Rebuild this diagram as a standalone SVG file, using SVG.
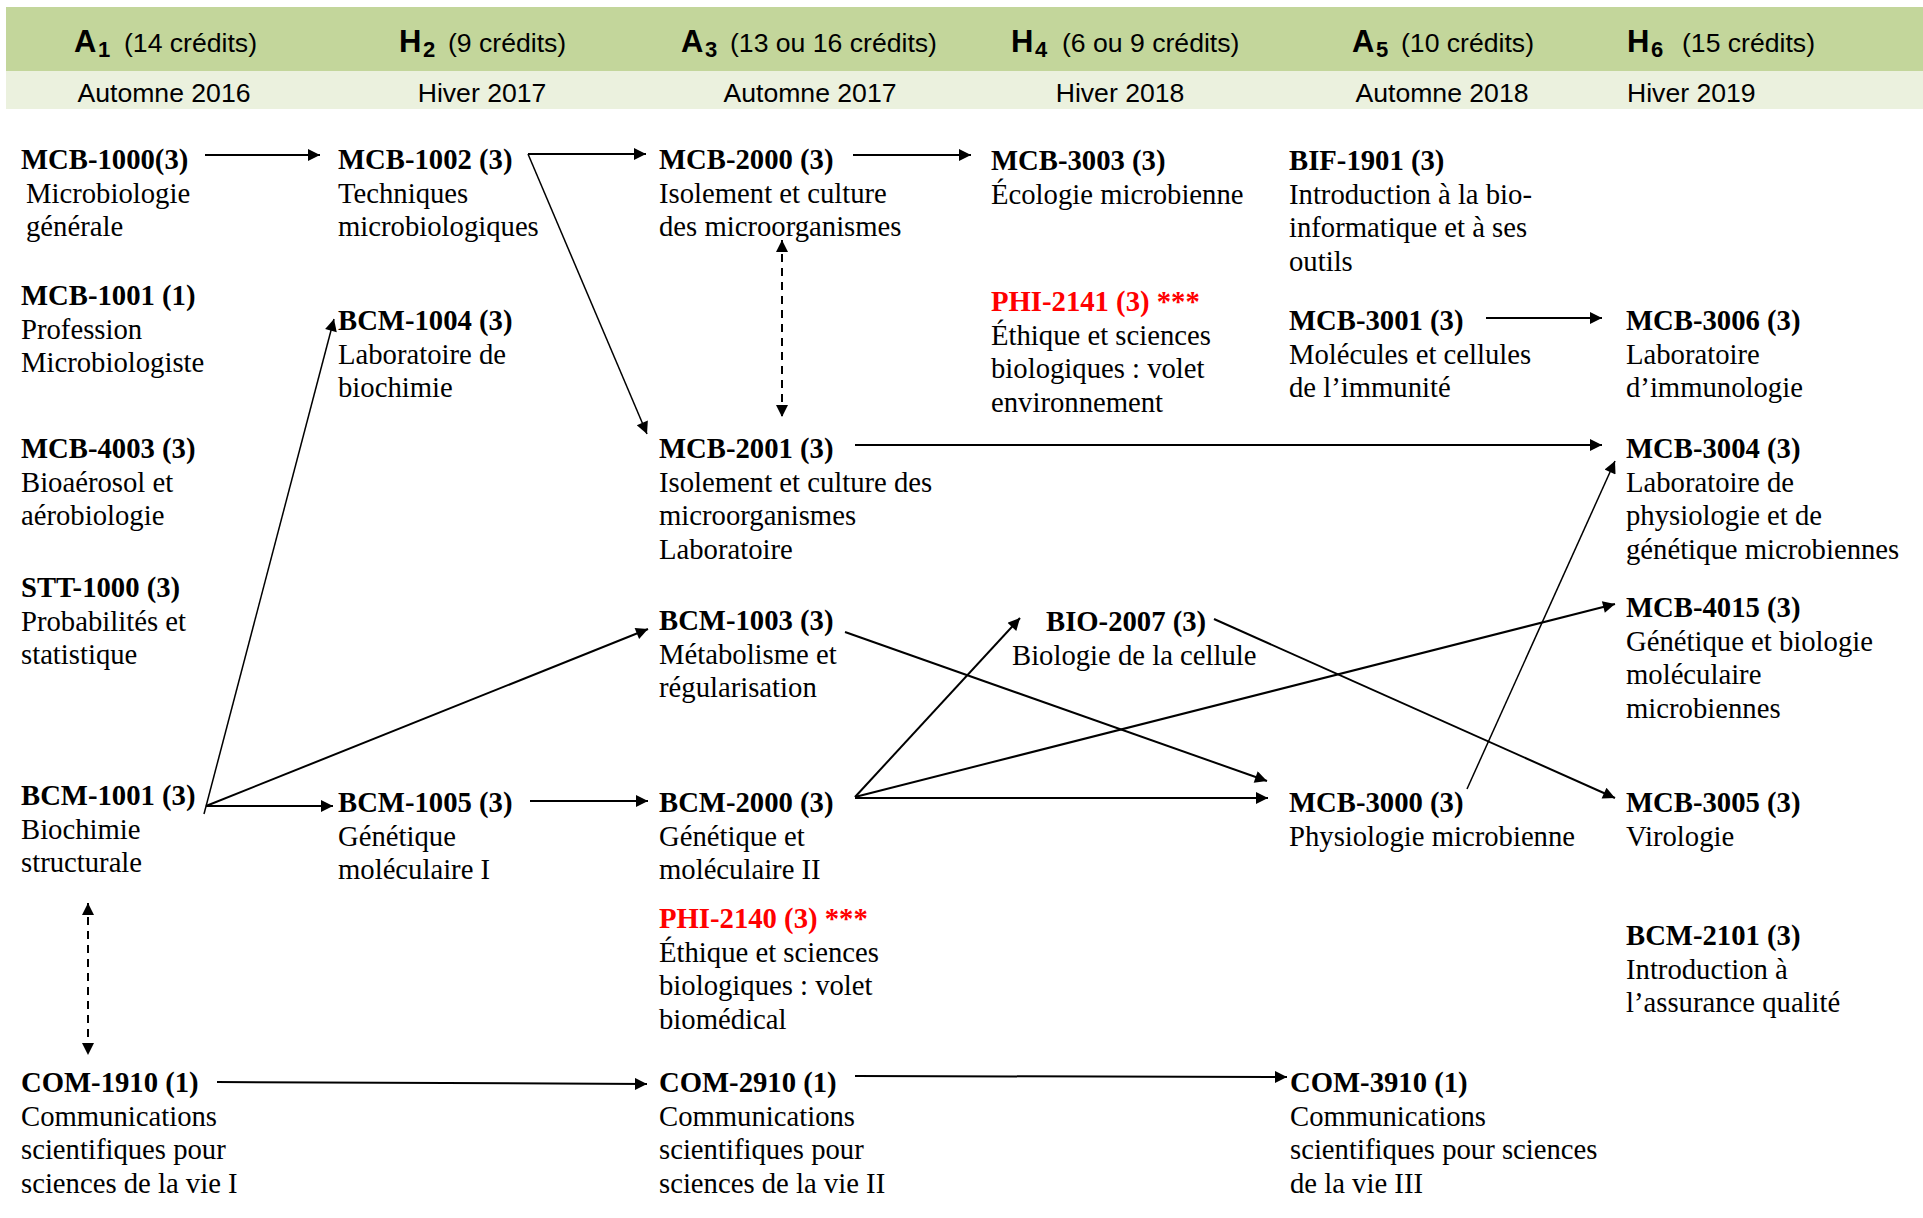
<svg xmlns="http://www.w3.org/2000/svg" width="1923" height="1218" viewBox="0 0 1923 1218">
<style>
.h{font-family:"Liberation Sans",Arial,sans-serif;font-size:26.6px;fill:#000}
.hb{font-family:"Liberation Sans",Arial,sans-serif;font-size:31px;font-weight:bold;fill:#000}
.hs{font-family:"Liberation Sans",Arial,sans-serif;font-size:22px;font-weight:bold;fill:#000}
.c{font-family:"Liberation Serif","Times New Roman",serif;font-size:28.7px;fill:#000}
.b{font-weight:bold}
.red{fill:#FF0000;font-weight:bold}
.ln{fill:none;stroke:#000;stroke-width:2}
.thin{stroke-width:1.5}
.dash{stroke-dasharray:8 6}
</style>
<defs>
<marker id="ah" viewBox="0 0 10 10" refX="10" refY="5" markerWidth="14" markerHeight="12" markerUnits="userSpaceOnUse" orient="auto-start-reverse">
<path d="M0,0 L10,5 L0,10 Z" fill="#000"/>
</marker>
</defs>
<rect width="1923" height="1218" fill="#fff"/>
<g id="header">
<rect x="6" y="7" width="1917" height="64" fill="#C3D69B"/>
<rect x="6" y="71" width="1917" height="38" fill="#EBF1DE"/>
<text class="hb" x="74" y="52">A</text><text class="hs" x="98" y="57">1</text><text class="h" x="124" y="52">(14 crédits)</text>
<text class="hb" x="399" y="52">H</text><text class="hs" x="423" y="57">2</text><text class="h" x="448" y="52">(9 crédits)</text>
<text class="hb" x="681" y="52">A</text><text class="hs" x="705" y="57">3</text><text class="h" x="730" y="52">(13 ou 16 crédits)</text>
<text class="hb" x="1011" y="52">H</text><text class="hs" x="1035" y="57">4</text><text class="h" x="1062" y="52">(6 ou 9 crédits)</text>
<text class="hb" x="1352" y="52">A</text><text class="hs" x="1376" y="57">5</text><text class="h" x="1401" y="52">(10 crédits)</text>
<text class="hb" x="1627" y="52">H</text><text class="hs" x="1651" y="57">6</text><text class="h" x="1682" y="52">(15 crédits)</text>
<text class="h" x="164" y="102" text-anchor="middle">Automne 2016</text>
<text class="h" x="482" y="102" text-anchor="middle">Hiver 2017</text>
<text class="h" x="810" y="102" text-anchor="middle">Automne 2017</text>
<text class="h" x="1120" y="102" text-anchor="middle">Hiver 2018</text>
<text class="h" x="1442" y="102" text-anchor="middle">Automne 2018</text>
<text class="h" x="1627" y="102">Hiver 2019</text>
</g>

<g id="n-MCB-1000"><text class="c"><tspan class="b" x="21" y="169">MCB-1000(3)</tspan><tspan x="26" y="202.5">Microbiologie</tspan><tspan x="26" y="236">générale</tspan></text></g>
<g id="n-MCB-1001"><text class="c"><tspan class="b" x="21" y="305">MCB-1001 (1)</tspan><tspan x="21" y="338.5">Profession</tspan><tspan x="21" y="372">Microbiologiste</tspan></text></g>
<g id="n-MCB-4003"><text class="c"><tspan class="b" x="21" y="458">MCB-4003 (3)</tspan><tspan x="21" y="491.5">Bioaérosol et</tspan><tspan x="21" y="525">aérobiologie</tspan></text></g>
<g id="n-STT-1000"><text class="c"><tspan class="b" x="21" y="597">STT-1000 (3)</tspan><tspan x="21" y="630.5">Probabilités et</tspan><tspan x="21" y="664">statistique</tspan></text></g>
<g id="n-BCM-1001"><text class="c"><tspan class="b" x="21" y="805">BCM-1001 (3)</tspan><tspan x="21" y="838.5">Biochimie</tspan><tspan x="21" y="872">structurale</tspan></text></g>
<g id="n-COM-1910"><text class="c"><tspan class="b" x="21" y="1092">COM-1910 (1)</tspan><tspan x="21" y="1125.5">Communications</tspan><tspan x="21" y="1159">scientifiques pour</tspan><tspan x="21" y="1192.5">sciences de la vie I</tspan></text></g>

<g id="n-MCB-1002"><text class="c"><tspan class="b" x="338" y="169">MCB-1002 (3)</tspan><tspan x="338" y="202.5">Techniques</tspan><tspan x="338" y="236">microbiologiques</tspan></text></g>
<g id="n-BCM-1004"><text class="c"><tspan class="b" x="338" y="330">BCM-1004 (3)</tspan><tspan x="338" y="363.5">Laboratoire de</tspan><tspan x="338" y="397">biochimie</tspan></text></g>
<g id="n-BCM-1005"><text class="c"><tspan class="b" x="338" y="812">BCM-1005 (3)</tspan><tspan x="338" y="845.5">Génétique</tspan><tspan x="338" y="879">moléculaire I</tspan></text></g>

<g id="n-MCB-2000"><text class="c"><tspan class="b" x="659" y="169">MCB-2000 (3)</tspan><tspan x="659" y="202.5">Isolement et culture</tspan><tspan x="659" y="236">des microorganismes</tspan></text></g>
<g id="n-MCB-2001"><text class="c"><tspan class="b" x="659" y="458">MCB-2001 (3)</tspan><tspan x="659" y="491.5">Isolement et culture des</tspan><tspan x="659" y="525">microorganismes</tspan><tspan x="659" y="558.5">Laboratoire</tspan></text></g>
<g id="n-BCM-1003"><text class="c"><tspan class="b" x="659" y="630">BCM-1003 (3)</tspan><tspan x="659" y="663.5">Métabolisme et</tspan><tspan x="659" y="697">régularisation</tspan></text></g>
<g id="n-BCM-2000"><text class="c"><tspan class="b" x="659" y="812">BCM-2000 (3)</tspan><tspan x="659" y="845.5">Génétique et</tspan><tspan x="659" y="879">moléculaire II</tspan></text></g>
<g id="n-PHI-2140"><text class="c"><tspan class="red" x="659" y="928">PHI-2140 (3) ***</tspan><tspan x="659" y="961.5">Éthique et sciences</tspan><tspan x="659" y="995">biologiques : volet</tspan><tspan x="659" y="1028.5">biomédical</tspan></text></g>
<g id="n-COM-2910"><text class="c"><tspan class="b" x="659" y="1092">COM-2910 (1)</tspan><tspan x="659" y="1125.5">Communications</tspan><tspan x="659" y="1159">scientifiques pour</tspan><tspan x="659" y="1192.5">sciences de la vie II</tspan></text></g>

<g id="n-MCB-3003"><text class="c"><tspan class="b" x="991" y="170">MCB-3003 (3)</tspan><tspan x="991" y="203.5">Écologie microbienne</tspan></text></g>
<g id="n-PHI-2141"><text class="c"><tspan class="red" x="991" y="311">PHI-2141 (3) ***</tspan><tspan x="991" y="344.5">Éthique et sciences</tspan><tspan x="991" y="378">biologiques : volet</tspan><tspan x="991" y="411.5">environnement</tspan></text></g>
<g id="n-BIO-2007"><text class="c"><tspan class="b" x="1046" y="631">BIO-2007 (3)</tspan><tspan x="1012" y="664.5">Biologie de la cellule</tspan></text></g>

<g id="n-BIF-1901"><text class="c"><tspan class="b" x="1289" y="170">BIF-1901 (3)</tspan><tspan x="1289" y="203.5">Introduction à la bio-</tspan><tspan x="1289" y="237">informatique et à ses</tspan><tspan x="1289" y="270.5">outils</tspan></text></g>
<g id="n-MCB-3001"><text class="c"><tspan class="b" x="1289" y="330">MCB-3001 (3)</tspan><tspan x="1289" y="363.5">Molécules et cellules</tspan><tspan x="1289" y="397">de l’immunité</tspan></text></g>
<g id="n-MCB-3000"><text class="c"><tspan class="b" x="1289" y="812">MCB-3000 (3)</tspan><tspan x="1289" y="845.5">Physiologie microbienne</tspan></text></g>
<g id="n-COM-3910"><text class="c"><tspan class="b" x="1290" y="1092">COM-3910 (1)</tspan><tspan x="1290" y="1125.5">Communications</tspan><tspan x="1290" y="1159">scientifiques pour sciences</tspan><tspan x="1290" y="1192.5">de la vie III</tspan></text></g>

<g id="n-MCB-3006"><text class="c"><tspan class="b" x="1626" y="330">MCB-3006 (3)</tspan><tspan x="1626" y="363.5">Laboratoire</tspan><tspan x="1626" y="397">d’immunologie</tspan></text></g>
<g id="n-MCB-3004"><text class="c"><tspan class="b" x="1626" y="458">MCB-3004 (3)</tspan><tspan x="1626" y="491.5">Laboratoire de</tspan><tspan x="1626" y="525">physiologie et de</tspan><tspan x="1626" y="558.5">génétique microbiennes</tspan></text></g>
<g id="n-MCB-4015"><text class="c"><tspan class="b" x="1626" y="617">MCB-4015 (3)</tspan><tspan x="1626" y="650.5">Génétique et biologie</tspan><tspan x="1626" y="684">moléculaire</tspan><tspan x="1626" y="717.5">microbiennes</tspan></text></g>
<g id="n-MCB-3005"><text class="c"><tspan class="b" x="1626" y="812">MCB-3005 (3)</tspan><tspan x="1626" y="845.5">Virologie</tspan></text></g>
<g id="n-BCM-2101"><text class="c"><tspan class="b" x="1626" y="945">BCM-2101 (3)</tspan><tspan x="1626" y="978.5">Introduction à</tspan><tspan x="1626" y="1012">l’assurance qualité</tspan></text></g>

<g id="connectors">
<line class="ln" x1="205" y1="155" x2="320" y2="155" marker-end="url(#ah)"/>
<line class="ln" x1="528" y1="154" x2="646" y2="154" marker-end="url(#ah)"/>
<line class="ln thin" x1="528" y1="154" x2="647" y2="434" marker-end="url(#ah)"/>
<line class="ln" x1="853" y1="155" x2="971" y2="155" marker-end="url(#ah)"/>
<line class="ln dash" x1="782" y1="240" x2="782" y2="417" marker-start="url(#ah)" marker-end="url(#ah)"/>
<line class="ln" x1="855" y1="445" x2="1602" y2="445" marker-end="url(#ah)"/>
<line class="ln" x1="1486" y1="318" x2="1602" y2="318" marker-end="url(#ah)"/>
<line class="ln thin" x1="204" y1="814" x2="334" y2="319" marker-end="url(#ah)"/>
<line class="ln" x1="206" y1="806" x2="648" y2="629" marker-end="url(#ah)"/>
<line class="ln" x1="206" y1="806" x2="333" y2="806" marker-end="url(#ah)"/>
<line class="ln" x1="530" y1="801" x2="648" y2="801" marker-end="url(#ah)"/>
<line class="ln" x1="855" y1="797" x2="1020" y2="618" marker-end="url(#ah)"/>
<line class="ln" x1="855" y1="797" x2="1615" y2="604" marker-end="url(#ah)"/>
<line class="ln" x1="855" y1="798" x2="1268" y2="798" marker-end="url(#ah)"/>
<line class="ln" x1="845" y1="632" x2="1267" y2="781" marker-end="url(#ah)"/>
<line class="ln" x1="1214" y1="619" x2="1615" y2="798" marker-end="url(#ah)"/>
<line class="ln thin" x1="1467" y1="789" x2="1615" y2="461" marker-end="url(#ah)"/>
<line class="ln dash" x1="88" y1="903" x2="88" y2="1055" marker-start="url(#ah)" marker-end="url(#ah)"/>
<line class="ln" x1="217" y1="1082" x2="647" y2="1084" marker-end="url(#ah)"/>
<line class="ln" x1="855" y1="1076" x2="1287" y2="1077" marker-end="url(#ah)"/>
</g>
</svg>
